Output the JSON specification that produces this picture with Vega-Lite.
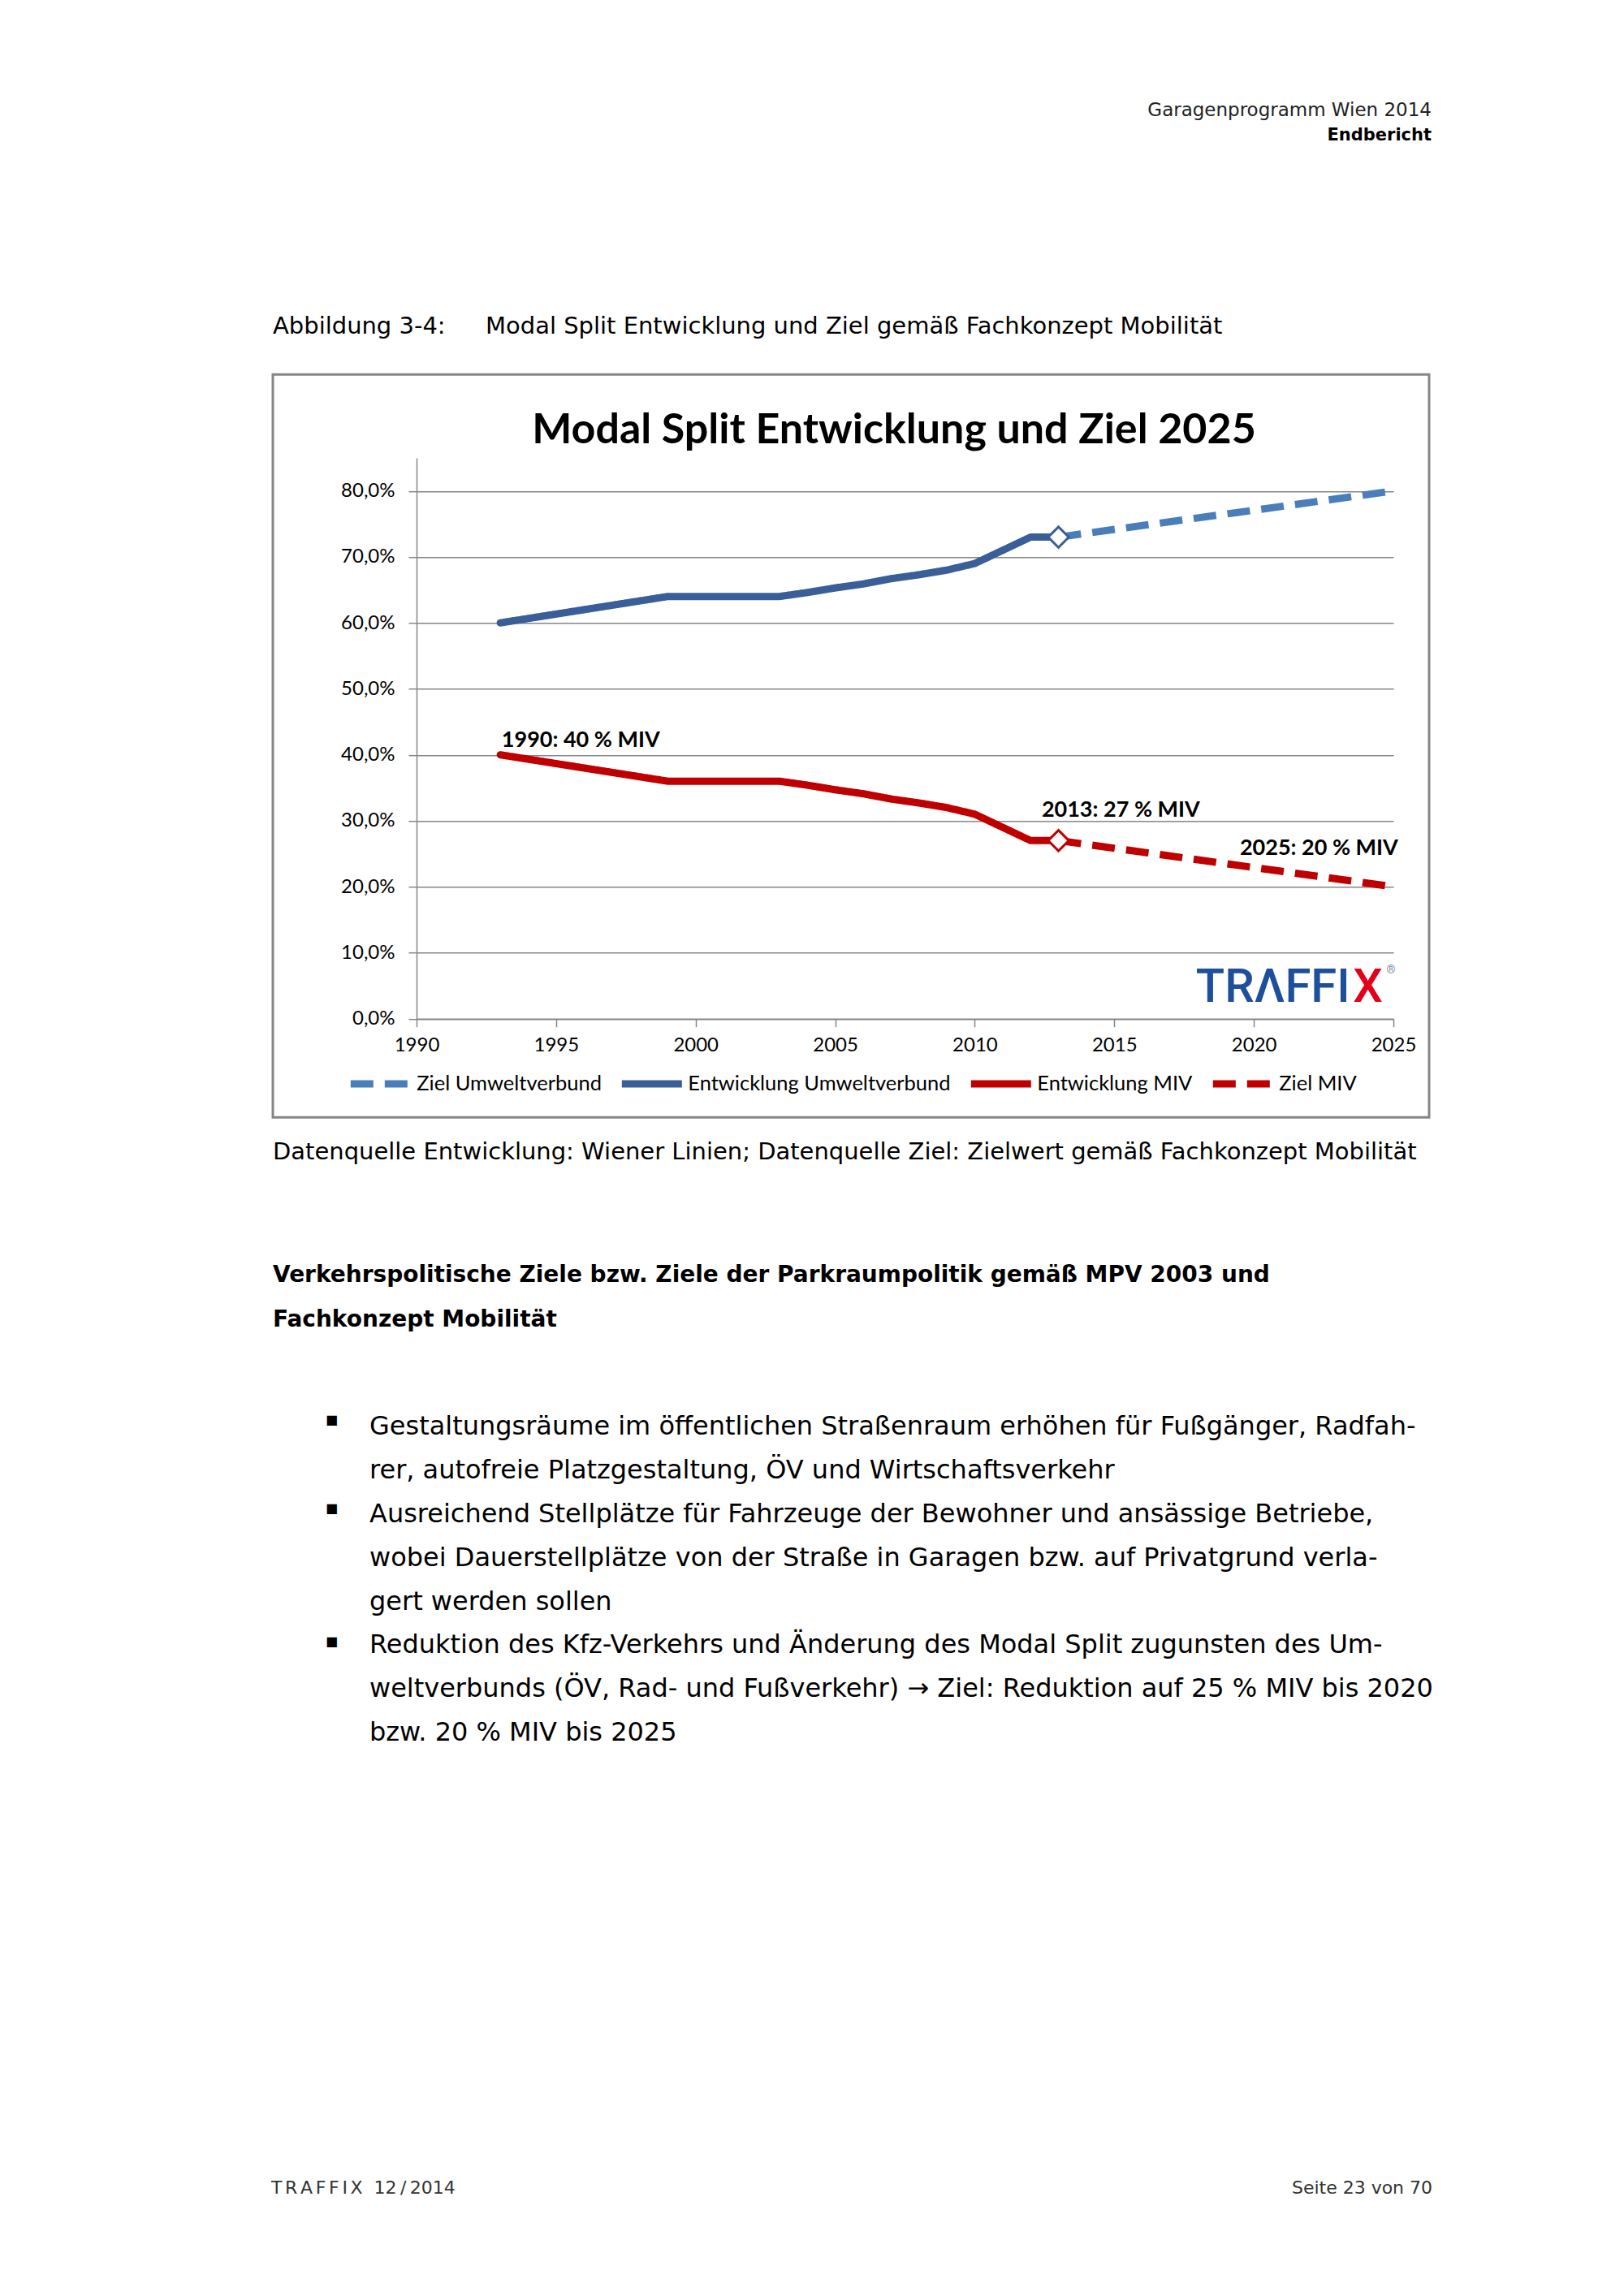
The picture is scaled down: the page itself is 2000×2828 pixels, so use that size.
{
  "$schema": "https://vega.github.io/schema/vega-lite/v6.json",
  "background": "white",
  "padding": {"left": 334, "top": 125.2, "right": 0, "bottom": 0},
  "spacing": 0,
  "config": {
    "view": {"stroke": null},
    "concat": {"spacing": 0},
    "title": {"offset": 0, "frame": "group"}
  },
  "datasets": {
    "lines": [
      {"series": "Entwicklung Umweltverbund", "year": 1993, "value": 60},
      {"series": "Entwicklung Umweltverbund", "year": 1999, "value": 64},
      {"series": "Entwicklung Umweltverbund", "year": 2003, "value": 64},
      {"series": "Entwicklung Umweltverbund", "year": 2004, "value": 64.6},
      {"series": "Entwicklung Umweltverbund", "year": 2005, "value": 65.3},
      {"series": "Entwicklung Umweltverbund", "year": 2006, "value": 65.9},
      {"series": "Entwicklung Umweltverbund", "year": 2007, "value": 66.7},
      {"series": "Entwicklung Umweltverbund", "year": 2008, "value": 67.3},
      {"series": "Entwicklung Umweltverbund", "year": 2009, "value": 68},
      {"series": "Entwicklung Umweltverbund", "year": 2010, "value": 69},
      {"series": "Entwicklung Umweltverbund", "year": 2011, "value": 71},
      {"series": "Entwicklung Umweltverbund", "year": 2012, "value": 73},
      {"series": "Entwicklung Umweltverbund", "year": 2013, "value": 73},
      {"series": "Entwicklung MIV", "year": 1993, "value": 40},
      {"series": "Entwicklung MIV", "year": 1999, "value": 36},
      {"series": "Entwicklung MIV", "year": 2003, "value": 36},
      {"series": "Entwicklung MIV", "year": 2004, "value": 35.4},
      {"series": "Entwicklung MIV", "year": 2005, "value": 34.7},
      {"series": "Entwicklung MIV", "year": 2006, "value": 34.1},
      {"series": "Entwicklung MIV", "year": 2007, "value": 33.3},
      {"series": "Entwicklung MIV", "year": 2008, "value": 32.7},
      {"series": "Entwicklung MIV", "year": 2009, "value": 32},
      {"series": "Entwicklung MIV", "year": 2010, "value": 31},
      {"series": "Entwicklung MIV", "year": 2011, "value": 29},
      {"series": "Entwicklung MIV", "year": 2012, "value": 27},
      {"series": "Entwicklung MIV", "year": 2013, "value": 27},
      {"series": "Ziel Umweltverbund", "year": 2013, "value": 73},
      {"series": "Ziel Umweltverbund", "year": 2025, "value": 80},
      {"series": "Ziel MIV", "year": 2013, "value": 27},
      {"series": "Ziel MIV", "year": 2025, "value": 20}
    ],
    "labels": [
      {"label": "1990: 40 % MIV", "year": 1993.05, "value": 42.24},
      {"label": "2013: 27 % MIV", "year": 2012.4, "value": 31.58},
      {"label": "2025: 20 % MIV", "year": 2019.5, "value": 25.83}
    ],
    "logo": [{"part": "TRΛFFI", "year": 2023.45, "value": 4.6}],
    "logoX": [{"part": "X", "year": 2023.55, "value": 4.6}],
    "logoR": [{"part": "®", "year": 2024.75, "value": 7.4}]
  },
  "vconcat": [
    {
      "width": 1424, "height": 210.4,
      "data": {"values": []}, "mark": "text", "encoding": {},
      "title": {
        "text": "Garagenprogramm Wien 2014", "subtitle": "Endbericht",
        "orient": "top", "anchor": "end", "frame": "group", "offset": 0, "dx": 3,
        "font": "DejaVu Sans", "fontSize": 23, "fontWeight": "normal", "color": "#222222",
        "subtitleFont": "DejaVu Sans", "subtitleFontSize": 21, "subtitleFontWeight": "bold",
        "subtitleColor": "#000000", "subtitlePadding": 7.9
      }
    },
    {
      "spacing": 0,
      "hconcat": [
        {
          "width": 262, "height": 41.5,
          "data": {"values": []}, "mark": "text", "encoding": {},
          "title": {"text": "Abbildung 3-4:", "orient": "top", "anchor": "start", "frame": "group", "offset": 0,
            "font": "DejaVu Sans", "fontSize": 29, "fontWeight": "normal", "color": "#000000"}
        },
        {
          "width": 1162, "height": 41.5,
          "data": {"values": []}, "mark": "text", "encoding": {},
          "title": {"text": "Modal Split Entwicklung und Ziel gemäß Fachkonzept Mobilität", "orient": "top", "anchor": "start", "frame": "group", "offset": 0,
            "font": "DejaVu Sans", "fontSize": 29, "fontWeight": "normal", "color": "#000000"}
        }
      ]
    },
    {
      "width": 1424, "height": 915,
      "view": {"stroke": "#868686", "strokeWidth": 3},
      "title": {
        "text": "Modal Split Entwicklung und Ziel 2025", "orient": "top", "anchor": "middle", "frame": "group",
        "offset": -96, "dx": 53, "font": "Lato", "fontSize": 52, "fontWeight": "bold", "color": "#000000"
      },
      "encoding": {
        "x": {
          "field": "year", "type": "quantitative",
          "scale": {"domain": [1990, 2025], "range": [177, 1380], "nice": false, "zero": false},
          "axis": {
            "values": [1990, 1995, 2000, 2005, 2010, 2015, 2020, 2025], "format": "d", "title": null,
            "offset": -121.5, "grid": false, "domainColor": "#868686", "domainWidth": 1.5,
            "tickColor": "#868686", "tickWidth": 1.5, "tickSize": 10,
            "labelFont": "Lato", "labelFontSize": 24, "labelColor": "#000000", "labelPadding": 11,
            "labelFlush": false, "labelOverlap": false
          }
        },
        "y": {
          "field": "value", "type": "quantitative",
          "scale": {"domain": [0, 85], "range": [793.5, 102.9], "nice": false, "zero": true},
          "axis": {
            "values": [0, 10, 20, 30, 40, 50, 60, 70, 80], "title": null,
            "labelExpr": "replace(format(datum.value, '.1f'), '.', ',') + '%'",
            "offset": -177, "grid": true, "gridColor": "#868686", "gridWidth": 1.5,
            "domainColor": "#868686", "domainWidth": 1.5, "tickColor": "#868686", "tickWidth": 1.5, "tickSize": 10,
            "labelFont": "Lato", "labelFontSize": 24, "labelColor": "#000000", "labelPadding": 17, "labelOverlap": false
          }
        }
      },
      "layer": [
        {
          "data": {"name": "lines"},
          "transform": [{"filter": "indexof(datum.series, 'Entwicklung') == 0"}],
          "mark": {"type": "line", "strokeWidth": 9, "strokeCap": "round", "strokeJoin": "round"},
          "encoding": {
            "color": {
              "field": "series", "type": "nominal",
              "scale": {"domain": ["Ziel Umweltverbund", "Entwicklung Umweltverbund", "Entwicklung MIV", "Ziel MIV"], "range": ["#4A7EBB", "#3A5F98", "#C00000", "#C00000"]},
              "legend": {
                "title": null, "orient": "none", "legendX": 91.3, "legendY": 1116, "direction": "horizontal", "columns": 4,
                "symbolType": "stroke", "symbolSize": 5476, "symbolStrokeWidth": 9,
                "labelFont": "Lato", "labelFontSize": 25.5, "labelColor": "#000000", "labelLimit": 0, "labelOffset": 3,
                "columnPadding": 6
              }
            },
            "strokeDash": {
              "field": "series", "type": "nominal",
              "scale": {"domain": ["Ziel Umweltverbund", "Entwicklung Umweltverbund", "Entwicklung MIV", "Ziel MIV"], "range": [[28, 14], [1, 0], [1, 0], [28, 14]]},
              "legend": {
                "title": null, "orient": "none", "legendX": 91.3, "legendY": 1116, "direction": "horizontal", "columns": 4,
                "symbolType": "stroke", "symbolSize": 5476, "symbolStrokeWidth": 9,
                "labelFont": "Lato", "labelFontSize": 25.5, "labelColor": "#000000", "labelLimit": 0, "labelOffset": 3,
                "columnPadding": 6
              }
            }
          }
        },
        {
          "data": {"name": "lines"},
          "transform": [{"filter": "indexof(datum.series, 'Ziel') == 0"}],
          "mark": {"type": "line", "strokeWidth": 9, "strokeCap": "butt", "strokeJoin": "round"},
          "encoding": {
            "color": {
              "field": "series", "type": "nominal",
              "scale": {"domain": ["Ziel Umweltverbund", "Entwicklung Umweltverbund", "Entwicklung MIV", "Ziel MIV"], "range": ["#4A7EBB", "#3A5F98", "#C00000", "#C00000"]},
              "legend": {
                "title": null, "orient": "none", "legendX": 91.3, "legendY": 1116, "direction": "horizontal", "columns": 4,
                "symbolType": "stroke", "symbolSize": 5476, "symbolStrokeWidth": 9,
                "labelFont": "Lato", "labelFontSize": 25.5, "labelColor": "#000000", "labelLimit": 0, "labelOffset": 3,
                "columnPadding": 6
              }
            },
            "strokeDash": {
              "field": "series", "type": "nominal",
              "scale": {"domain": ["Ziel Umweltverbund", "Entwicklung Umweltverbund", "Entwicklung MIV", "Ziel MIV"], "range": [[28, 14], [1, 0], [1, 0], [28, 14]]},
              "legend": {
                "title": null, "orient": "none", "legendX": 91.3, "legendY": 1116, "direction": "horizontal", "columns": 4,
                "symbolType": "stroke", "symbolSize": 5476, "symbolStrokeWidth": 9,
                "labelFont": "Lato", "labelFontSize": 25.5, "labelColor": "#000000", "labelLimit": 0, "labelOffset": 3,
                "columnPadding": 6
              }
            }
          }
        },
        {
          "data": {"name": "lines"},
          "transform": [{"filter": "datum.year == 2013 && indexof(datum.series, 'Entwicklung') == 0"}],
          "mark": {"type": "point", "shape": "diamond", "size": 650, "filled": false, "fill": "white", "fillOpacity": 1, "strokeWidth": 3, "opacity": 1},
          "encoding": {
            "color": {
              "field": "series", "type": "nominal",
              "scale": {"domain": ["Ziel Umweltverbund", "Entwicklung Umweltverbund", "Entwicklung MIV", "Ziel MIV"], "range": ["#4A7EBB", "#3A5F98", "#C00000", "#C00000"]},
              "legend": null
            }
          }
        },
        {
          "data": {"name": "labels"},
          "mark": {"type": "text", "align": "left", "baseline": "middle", "font": "Lato", "fontSize": 27, "fontWeight": "bold", "color": "#000000"},
          "encoding": {"text": {"field": "label"}}
        },
        {
          "data": {"name": "logo"},
          "mark": {"type": "text", "align": "right", "baseline": "middle", "font": "Roboto", "fontSize": 58, "fontWeight": 500, "color": "#1D4F9C"},
          "encoding": {"text": {"field": "part"}}
        },
        {
          "data": {"name": "logoX"},
          "mark": {"type": "text", "align": "left", "baseline": "middle", "font": "Roboto", "fontSize": 58, "fontWeight": 500, "color": "#E2001A"},
          "encoding": {"text": {"field": "part"}}
        },
        {
          "data": {"name": "logoR"},
          "mark": {"type": "text", "align": "left", "baseline": "middle", "font": "Roboto", "fontSize": 14, "color": "#7a8aa8"},
          "encoding": {"text": {"field": "part"}}
        }
      ]
    },
    {
      "width": 1424, "height": 27.2,
      "data": {"values": []}, "mark": "text", "encoding": {},
      "title": {"text": "Datenquelle Entwicklung: Wiener Linien; Datenquelle Ziel: Zielwert gemäß Fachkonzept Mobilität",
        "orient": "bottom", "anchor": "start", "frame": "group", "offset": 0,
        "font": "DejaVu Sans", "fontSize": 29, "fontWeight": "normal", "color": "#000000"}
    },
    {
      "width": 1424, "height": 121.4,
      "data": {"values": []}, "mark": "text", "encoding": {},
      "title": {"text": ["Verkehrspolitische Ziele bzw. Ziele der Parkraumpolitik gemäß MPV 2003 und", "Fachkonzept Mobilität"],
        "orient": "bottom", "anchor": "start", "frame": "group", "offset": 0, "lineHeight": 55,
        "font": "DejaVu Sans", "fontSize": 28, "fontWeight": "bold", "color": "#000000"}
    },
    {
      "spacing": 0,
      "hconcat": [
        {
          "spacing": 0,
          "vconcat": [
            {
              "width": 119, "height": 102.3,
              "data": {"values": []}, "mark": "text", "encoding": {},
              "title": {"text": "■", "orient": "bottom", "anchor": "start", "frame": "group", "offset": 0, "dx": 65, "dy": -1.5,
                "font": "DejaVu Sans", "fontSize": 16, "fontWeight": "normal", "color": "#000000"}
            },
            {
              "width": 119, "height": 94.6,
              "data": {"values": []}, "mark": "text", "encoding": {},
              "title": {"text": "■", "orient": "bottom", "anchor": "start", "frame": "group", "offset": 0, "dx": 65, "dy": -1.5,
                "font": "DejaVu Sans", "fontSize": 16, "fontWeight": "normal", "color": "#000000"}
            },
            {
              "width": 119, "height": 148.4,
              "data": {"values": []}, "mark": "text", "encoding": {},
              "title": {"text": "■", "orient": "bottom", "anchor": "start", "frame": "group", "offset": 0, "dx": 65, "dy": -1.5,
                "font": "DejaVu Sans", "fontSize": 16, "fontWeight": "normal", "color": "#000000"}
            }
          ]
        },
        {
          "width": 1305, "height": 102.3,
          "data": {"values": []}, "mark": "text", "encoding": {},
          "title": {"text": [
              "Gestaltungsräume im öffentlichen Straßenraum erhöhen für Fußgänger, Radfah-",
              "rer, autofreie Platzgestaltung, ÖV und Wirtschaftsverkehr",
              "Ausreichend Stellplätze für Fahrzeuge der Bewohner und ansässige Betriebe,",
              "wobei Dauerstellplätze von der Straße in Garagen bzw. auf Privatgrund verla-",
              "gert werden sollen",
              "Reduktion des Kfz-Verkehrs und Änderung des Modal Split zugunsten des Um-",
              "weltverbunds (ÖV, Rad- und Fußverkehr) → Ziel: Reduktion auf 25 % MIV bis 2020",
              "bzw. 20 % MIV bis 2025"
            ],
            "orient": "bottom", "anchor": "start", "frame": "group", "offset": 0, "lineHeight": 53.8,
            "font": "DejaVu Sans", "fontSize": 32, "fontWeight": "normal", "color": "#000000"}
        }
      ]
    },
    {
      "spacing": 0,
      "hconcat": [
        {
          "width": 712, "height": 534.8,
          "data": {"values": []}, "mark": "text", "encoding": {},
          "title": {"text": "T\u2006R\u2006A\u2006F\u2006F\u2006I\u2006X\u00a0\u00a012\u2009/\u20092014", "orient": "bottom", "anchor": "start", "frame": "group", "offset": 0, "dx": -2,
            "font": "DejaVu Sans", "fontSize": 22, "fontWeight": "normal", "color": "#333333"}
        },
        {
          "width": 712, "height": 534.8,
          "data": {"values": []}, "mark": "text", "encoding": {},
          "title": {"text": "Seite 23 von 70", "orient": "bottom", "anchor": "end", "frame": "group", "offset": 0, "dx": 4,
            "font": "DejaVu Sans", "fontSize": 22, "fontWeight": "normal", "color": "#333333"}
        }
      ]
    }
  ]
}
